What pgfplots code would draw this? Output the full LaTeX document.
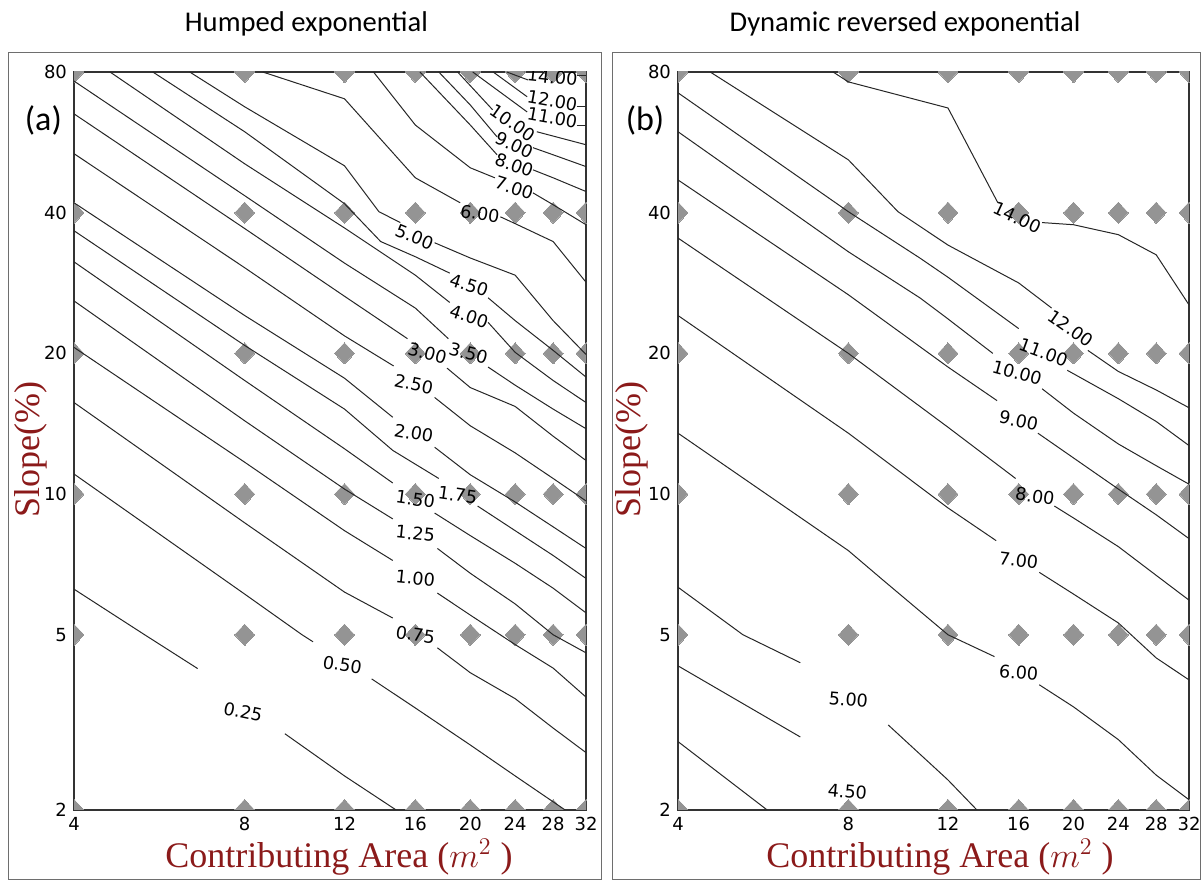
\documentclass[border=0pt]{standalone}
\usepackage{pgfplots}
\pgfplotsset{compat=1.18}
\usepackage{fontspec}
\setmainfont{Liberation Serif}
\newfontfamily\dejavu{DejaVu Sans}
\newfontfamily\carlito{Carlito}
\definecolor{labred}{RGB}{139,26,26}
\definecolor{markgray}{RGB}{148,148,148}
\definecolor{framegray}{RGB}{110,110,110}

\tikzset{clab/.style={font=\dejavu\fontsize{8.8}{10}\selectfont, inner sep=0pt}}
\pgfplotsset{
  isoline/.style={black!85, line width=0.5pt, mark=none, forget plot},
  gridmark/.style={only marks, color=markgray, mark=diamond*, mark size=5.3pt,
    mark options={draw=markgray, fill=markgray, line width=0pt, xscale=1.25}, forget plot},
}

\begin{document}
\begin{tikzpicture}
\useasboundingbox (0,0) rectangle (601.5pt,441pt);

% panel frames
\draw[framegray, line width=0.5pt] (4.2pt,1pt) rectangle (300.5pt,414.7pt);
\draw[framegray, line width=0.5pt] (306pt,1pt) rectangle (600pt,414.7pt);

% ---------------- (a) Humped exponential ----------------
\begin{axis}[
    width=256pt, height=369pt, scale only axis,
    at={(37pt,36pt)}, anchor=south west,
    xmode=log, log basis x=2,
    xmin=4, xmax=32,
    xtick={4,8,12,16,20,24,28,32},
    xticklabels={4,8,12,16,20,24,28,32},
    y coord trafo/.code={\pgfmathparse{(#1<5)?(175*ln(#1/2)/ln(2.5)):(175+140.5*ln(#1/5)/ln(2))}},
    ymin=2, ymax=80,
    ytick={2,5,10,20,40,80},
    yticklabels={2,5,10,20,40,80},
    major tick length=0pt,
    tick label style={font=\dejavu\fontsize{9}{10}\selectfont},
    axis line style={black!80, line width=0.6pt},
    clip marker paths=true]
\addplot[gridmark] coordinates {
 (4,2)(8,2)(12,2)(16,2)(20,2)(24,2)(28,2)(32,2)
 (4,5)(8,5)(12,5)(16,5)(20,5)(24,5)(28,5)(32,5)
 (4,10)(8,10)(12,10)(16,10)(20,10)(24,10)(28,10)(32,10)
 (4,20)(8,20)(12,20)(16,20)(20,20)(24,20)(28,20)(32,20)
 (4,40)(8,40)(12,40)(16,40)(20,40)(24,40)(28,40)(32,40)
 (4,80)(8,80)(12,80)(16,80)(20,80)(24,80)(28,80)(32,80)};

% 0.25
\addplot[isoline] coordinates {(4,6.26)(5.33,5)(6.61,4.19)};
\addplot[isoline] coordinates {(9.42,2.98)(12,2.39)(14.8,2)};
\node[clab, rotate=-12] at (axis cs:7.95,3.34) {0.25};
% 0.50
\addplot[isoline] coordinates {(4,11.04)(8,6.11)(10.1,5)(10.56,4.82)};
\addplot[isoline] coordinates {(13.4,3.97)(16,3.41)(20,2.81)(24,2.39)(29.4,2)};
\node[clab, rotate=-9] at (axis cs:11.9,4.27) {0.50};
% 0.75
\addplot[isoline] coordinates {(4,15.7)(8,8.68)(12,6.17)(14.6,5.43)};
\addplot[isoline] coordinates {(17.5,4.67)(20,4.10)(24,3.58)(28,3.07)(32,2.70)};
\node[clab, rotate=-8] at (axis cs:16,5.0) {0.75};
% 1.00
\addplot[isoline] coordinates {(4,20.6)(8,11.7)(12,8.35)(14.6,7.21)};
\addplot[isoline] coordinates {(17.5,6.14)(20,5.51)(24,4.75)(28,4.20)(32,3.61)};
\node[clab, rotate=-6] at (axis cs:16,6.6) {1.00};
% 1.25
\addplot[isoline] coordinates {(4,25.9)(8,14.35)(12,10.25)(14.6,8.85)};
\addplot[isoline] coordinates {(17.5,7.65)(20,6.77)(24,5.82)(28,5)(32,4.55)};
\node[clab, rotate=-6] at (axis cs:16,8.23) {1.25};
% 1.50
\addplot[isoline] coordinates {(4,31.4)(8,17.5)(12,12.5)(14.6,10.56)};
\addplot[isoline] coordinates {(17.3,9.11)(20,8.15)(24,7.11)(28,6.29)(32,5.57)};
\node[clab, rotate=-8] at (axis cs:16,9.76) {1.50};
% 1.75
\addplot[isoline] coordinates {(4,36.6)(8,20.8)(12,15.2)(14.6,12.4)(17.6,10.8)};
\addplot[isoline] coordinates {(20.6,9.43)(24,8.35)(28,7.39)(32,6.60)};
\node[clab, rotate=-8] at (axis cs:19.0,9.95) {1.75};
% 2.00
\addplot[isoline] coordinates {(4,42.0)(8,24.1)(12,17.7)(14.6,14.6)};
\addplot[isoline] coordinates {(17.3,12.6)(20,11.0)(24,9.62)(28,8.51)(32,7.65)};
\node[clab, rotate=-10] at (axis cs:15.9,13.5) {2.00};
% 2.50
\addplot[isoline] coordinates {(4,53.5)(8,30.5)(12,21.8)(14.65,18.8)};
\addplot[isoline] coordinates {(17.3,16.1)(20,14.0)(24,12.25)(28,10.8)(32,9.67)};
\node[clab, rotate=-12] at (axis cs:15.9,17.2) {2.50};
% 3.00
\addplot[isoline] coordinates {(4,65.1)(8,37.0)(12,26.5)(15.5,21.5)};
\addplot[isoline] coordinates {(18.2,18.6)(20,16.9)(24,15.4)(28,13.3)(32,11.8)};
\node[clab, rotate=-15] at (axis cs:16.8,20) {3.00};
% 3.50
\addplot[isoline] coordinates {(4,76.5)(8,43.5)(12,31.2)(16,25.0)(18.3,21.5)};
\addplot[isoline] coordinates {(21.5,18.7)(24,17.1)(28,15.2)(32,13.8)};
\node[clab, rotate=-15] at (axis cs:19.85,20) {3.50};
% 4.00
\addplot[isoline] coordinates {(4.63,80)(8,50.9)(12,37.1)(16,29.4)(18.4,25.7)};
\addplot[isoline] coordinates {(21.5,23.3)(24,20.1)(28,17.5)(32,15.7)};
\node[clab, rotate=-18] at (axis cs:19.9,24.0) {4.00};
% 4.50
\addplot[isoline] coordinates {(5.51,80)(8,59.6)(12,41.8)(13.9,34.7)(16,32.2)(18.4,29.7)};
\addplot[isoline] coordinates {(21.5,26.3)(24,23.5)(28,20.3)(32,17.8)};
\node[clab, rotate=-18] at (axis cs:19.9,28.0) {4.50};
% 5.00
\addplot[isoline] coordinates {(6.40,80)(8,67.4)(12,50.4)(13.8,40.2)(15.05,38.1)};
\addplot[isoline] coordinates {(17.3,34.5)(20,32.0)(24,29.4)(28,23.5)(32,19.9)};
\node[clab, rotate=-22] at (axis cs:15.95,35.5) {5.00};
% 6.00
\addplot[isoline] coordinates {(8.61,80)(12,70.1)(16,47.5)(19.2,42.0)};
\addplot[isoline] coordinates {(22.6,39.2)(24,37.9)(28,34.7)(32,28.4)};
\node[clab, rotate=-8] at (axis cs:20.8,39.8) {6.00};
% 7.00
\addplot[isoline] coordinates {(13.5,80)(16,61.6)(20,49.9)(22.1,47.5)};
\addplot[isoline] coordinates {(25.8,44.1)(28,41.6)(32,37.7)};
\node[clab, rotate=-18] at (axis cs:23.9,45.2) {7.00};
% 8.00
\addplot[isoline] coordinates {(16.3,80)(20,61.6)(22.3,53.2)};
\addplot[isoline] coordinates {(25.8,49.4)(28,47.5)(32,44.4)};
\node[clab, rotate=-20] at (axis cs:23.9,50.6) {8.00};
% 9.00
\addplot[isoline] coordinates {(17.6,80)(20,68.0)(22.3,58.1)};
\addplot[isoline] coordinates {(25.8,55.1)(28,53.2)(32,50.2)};
\node[clab, rotate=-25] at (axis cs:23.9,55.9) {9.00};
% 10.00
\addplot[isoline] coordinates {(19.0,80)(21.9,66.4)};
\addplot[isoline] coordinates {(26.2,59.6)(32,55.9)};
\node[clab, rotate=-35] at (axis cs:23.8,62.2) {10.00};
% 11.00
\addplot[isoline] coordinates {(20.2,80)(25.2,65.7)};
\addplot[isoline] coordinates {(30.8,61.6)(32,61.6)};
\node[clab, rotate=-10] at (axis cs:27.9,63.8) {11.00};
% 12.00
\addplot[isoline] coordinates {(21.95,80)(25.2,70.8)};
\addplot[isoline] coordinates {(30.8,67.4)(32,67.4)};
\node[clab, rotate=-10] at (axis cs:27.9,69.4) {12.00};
% 14.00
\addplot[isoline] coordinates {(23.2,80)(25.3,76.9)};
\addplot[isoline] coordinates {(30.8,78.8)(32,78.8)};
\node[clab, rotate=-6] at (axis cs:27.9,78.0) {14.00};
\end{axis}

% ---------------- (b) Dynamic reversed exponential ----------------
\begin{axis}[
    width=255.5pt, height=369pt, scale only axis,
    at={(339pt,36pt)}, anchor=south west,
    xmode=log, log basis x=2,
    xmin=4, xmax=32,
    xtick={4,8,12,16,20,24,28,32},
    xticklabels={4,8,12,16,20,24,28,32},
    y coord trafo/.code={\pgfmathparse{(#1<5)?(175*ln(#1/2)/ln(2.5)):(175+140.5*ln(#1/5)/ln(2))}},
    ymin=2, ymax=80,
    ytick={2,5,10,20,40,80},
    yticklabels={2,5,10,20,40,80},
    major tick length=0pt,
    tick label style={font=\dejavu\fontsize{9}{10}\selectfont},
    axis line style={black!80, line width=0.6pt},
    clip marker paths=true]
\addplot[gridmark] coordinates {
 (4,2)(8,2)(12,2)(16,2)(20,2)(24,2)(28,2)(32,2)
 (4,5)(8,5)(12,5)(16,5)(20,5)(24,5)(28,5)(32,5)
 (4,10)(8,10)(12,10)(16,10)(20,10)(24,10)(28,10)(32,10)
 (4,20)(8,20)(12,20)(16,20)(20,20)(24,20)(28,20)(32,20)
 (4,40)(8,40)(12,40)(16,40)(20,40)(24,40)(28,40)(32,40)
 (4,80)(8,80)(12,80)(16,80)(20,80)(24,80)(28,80)(32,80)};

% 4.00 (unlabelled)
\addplot[isoline] coordinates {(4,2.86)(5.75,2)};
% 4.50
\addplot[isoline] coordinates {(4,4.25)(6.58,2.93)};
\node[clab, rotate=-5] at (axis cs:7.97,2.20) {4.50};
% 5.00
\addplot[isoline] coordinates {(4,6.32)(5.21,5)(6.58,4.32)};
\addplot[isoline] coordinates {(9.41,3.12)(12,2.34)(13.5,2)};
\node[clab, rotate=-5] at (axis cs:8,3.56) {5.00};
% 6.00
\addplot[isoline] coordinates {(4,13.5)(8,7.57)(9.22,6.54)(12,5)(14.5,4.46)};
\addplot[isoline] coordinates {(17.4,3.85)(20,3.43)(24,2.89)(28,2.40)(32,2.11)};
\node[clab, rotate=-5] at (axis cs:16,4.10) {6.00};
% 7.00
\addplot[isoline] coordinates {(4,24.1)(8,13.5)(12,9.34)(14.6,7.95)};
\addplot[isoline] coordinates {(17.4,6.80)(20,6.11)(24,5.30)(28,4.43)(32,3.95)};
\node[clab, rotate=-7] at (axis cs:16,7.21) {7.00};
% 8.00
\addplot[isoline] coordinates {(4,35.3)(8,20)(12,13.9)(15.8,10.8)};
\addplot[isoline] coordinates {(18.5,9.43)(20,8.89)(24,7.72)(28,6.70)(32,5.93)};
\node[clab, rotate=-8] at (axis cs:17.1,9.9) {8.00};
% 9.00
\addplot[isoline] coordinates {(4,47.0)(8,26.7)(12,18.7)(14.65,15.85)};
\addplot[isoline] coordinates {(17.3,13.5)(20,11.95)(24,10.25)(28,9.03)(32,8.03)};
\node[clab, rotate=-12] at (axis cs:16,14.35) {9.00};
% 10.00
\addplot[isoline] coordinates {(4,59.6)(8,33.0)(10.7,26.3)(12,23.7)(14.4,20)};
\addplot[isoline] coordinates {(17.6,16.8)(20,14.9)(24,12.8)(28,11.5)(32,10.5)};
\node[clab, rotate=-15] at (axis cs:15.9,18.2) {10.00};
% 11.00
\addplot[isoline] coordinates {(4,72.2)(8,40.2)(10.7,32.0)(12,29.1)(16,22.6)};
\addplot[isoline] coordinates {(19.5,18.4)(24,16.0)(28,14.3)(32,12.7)};
\node[clab, rotate=-20] at (axis cs:17.7,20.1) {11.00};
% 12.00
\addplot[isoline] coordinates {(4.56,80)(8,51.9)(9.79,40.2)(12,34.1)(16,28.3)(18.3,25.0)};
\addplot[isoline] coordinates {(21.2,20.3)(24,18.3)(28,16.7)(32,15.3)};
\node[clab, rotate=-35] at (axis cs:19.8,22.6) {12.00};
% 14.00
\addplot[isoline] coordinates {(7.52,80)(8,76.2)(12,67.0)(14.7,42.0)};
\addplot[isoline] coordinates {(17.6,38.1)(20,37.7)(24,35.9)(28,32.5)(32,25.4)};
\node[clab, rotate=-25] at (axis cs:15.9,39.0) {14.00};
\end{axis}

% titles, panel tags and axis labels
\node[anchor=base, font=\carlito\fontsize{14.3}{16}\selectfont] at (153.2pt,425.2pt) {Humped exponential};
\node[anchor=base, font=\carlito\fontsize{14.3}{16}\selectfont] at (452.5pt,425.2pt) {Dynamic reversed exponential};
\node[font=\carlito\fontsize{17}{19}\selectfont] at (21.7pt,381pt) {(a)};
\node[font=\carlito\fontsize{17}{19}\selectfont] at (322.5pt,381pt) {(b)};
\node[rotate=90, text=labred, font=\fontsize{18}{20}\selectfont] at (15.5pt,216pt) {Slope(\%)};
\node[rotate=90, text=labred, font=\fontsize{18}{20}\selectfont] at (316pt,216pt) {Slope(\%)};
\node[text=labred, font=\fontsize{18}{20}\selectfont] at (169.5pt,12.5pt) {Contributing Area ($m^2$ )};
\node[text=labred, font=\fontsize{18}{20}\selectfont] at (470pt,12.5pt) {Contributing Area ($m^2$ )};
\end{tikzpicture}
\end{document}
